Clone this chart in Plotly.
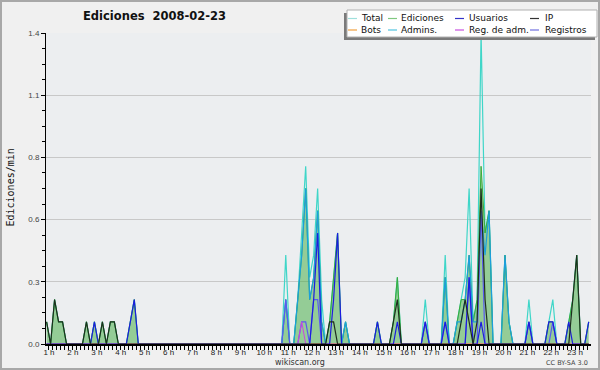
import plotly.graph_objects as go

# ---------------- data (10-minute bins, edits per minute) ----------------
START_HOUR = 0.9
STEP_HOURS = 1 / 6

total = [
    0.1, 0, 0.2, 0.1, 0.1, 0, 0, 0, 0, 0, 0.1, 0,
    0.1, 0, 0.1, 0, 0.1, 0.1, 0, 0, 0, 0.1, 0.2, 0,
    0, 0, 0, 0, 0, 0, 0, 0, 0, 0, 0, 0,
    0, 0, 0, 0, 0, 0, 0, 0, 0, 0, 0, 0,
    0, 0, 0, 0, 0, 0, 0, 0, 0, 0, 0, 0,
    0.4, 0, 0, 0.2, 0.5, 0.8, 0.3, 0.4, 0.7, 0.2, 0, 0.1,
    0.3, 0.5, 0, 0.1, 0, 0, 0, 0, 0, 0, 0, 0.1,
    0, 0, 0, 0.1, 0.3, 0, 0, 0, 0, 0, 0, 0.2,
    0, 0, 0, 0, 0.4, 0, 0, 0.1, 0.2, 0.3, 0.7, 0.1,
    0.2, 1.4, 0.5, 0.6, 0, 0, 0, 0.4, 0.1, 0, 0, 0,
    0, 0.2, 0, 0, 0, 0, 0.1, 0.2, 0, 0, 0, 0.1,
    0.2, 0.4, 0, 0, 0.1,
]
ediciones = [
    0.1, 0, 0.2, 0.1, 0.1, 0, 0, 0, 0, 0, 0.1, 0,
    0.1, 0, 0.1, 0, 0.1, 0.1, 0, 0, 0, 0.1, 0.2, 0,
    0, 0, 0, 0, 0, 0, 0, 0, 0, 0, 0, 0,
    0, 0, 0, 0, 0, 0, 0, 0, 0, 0, 0, 0,
    0, 0, 0, 0, 0, 0, 0, 0, 0, 0, 0, 0,
    0.2, 0, 0, 0.2, 0.4, 0.7, 0.2, 0.3, 0.6, 0.1, 0, 0.1,
    0.3, 0.5, 0, 0.1, 0, 0, 0, 0, 0, 0, 0, 0.1,
    0, 0, 0, 0.1, 0.3, 0, 0, 0, 0, 0, 0, 0.1,
    0, 0, 0, 0, 0.3, 0, 0, 0.1, 0.2, 0.2, 0.4, 0.1,
    0.2, 0.8, 0.5, 0.6, 0, 0, 0, 0.4, 0.1, 0, 0, 0,
    0, 0.1, 0, 0, 0, 0, 0.1, 0.1, 0, 0, 0, 0.1,
    0.2, 0.4, 0, 0, 0.1,
]
usuarios = [
    0, 0, 0, 0, 0, 0, 0, 0, 0, 0, 0, 0,
    0.1, 0, 0, 0, 0, 0, 0, 0, 0, 0.1, 0.2, 0,
    0, 0, 0, 0, 0, 0, 0, 0, 0, 0, 0, 0,
    0, 0, 0, 0, 0, 0, 0, 0, 0, 0, 0, 0,
    0, 0, 0, 0, 0, 0, 0, 0, 0, 0, 0, 0,
    0, 0, 0, 0, 0, 0, 0, 0.2, 0.5, 0, 0, 0,
    0.2, 0.5, 0, 0, 0, 0, 0, 0, 0, 0, 0, 0.1,
    0, 0, 0, 0, 0.1, 0, 0, 0, 0, 0, 0, 0.1,
    0, 0, 0, 0, 0.1, 0, 0, 0, 0, 0, 0.3, 0,
    0, 0.1, 0, 0, 0, 0, 0, 0, 0, 0, 0, 0,
    0, 0.1, 0, 0, 0, 0, 0.1, 0.1, 0, 0, 0, 0.1,
    0, 0, 0, 0, 0.1,
]
ip = [
    0.1, 0, 0.2, 0.1, 0.1, 0, 0, 0, 0, 0, 0.1, 0,
    0, 0, 0.1, 0, 0.1, 0.1, 0, 0, 0, 0, 0, 0,
    0, 0, 0, 0, 0, 0, 0, 0, 0, 0, 0, 0,
    0, 0, 0, 0, 0, 0, 0, 0, 0, 0, 0, 0,
    0, 0, 0, 0, 0, 0, 0, 0, 0, 0, 0, 0,
    0, 0, 0, 0, 0, 0, 0, 0, 0, 0, 0, 0.1,
    0.1, 0, 0, 0, 0, 0, 0, 0, 0, 0, 0, 0,
    0, 0, 0, 0.1, 0.2, 0, 0, 0, 0, 0, 0, 0,
    0, 0, 0, 0, 0, 0, 0, 0, 0.1, 0.2, 0.1, 0,
    0.1, 0.7, 0.2, 0, 0, 0, 0, 0, 0, 0, 0, 0,
    0, 0, 0, 0, 0, 0, 0, 0, 0, 0, 0, 0,
    0.2, 0.4, 0, 0, 0,
]
bots = [
    0, 0, 0, 0, 0, 0, 0, 0, 0, 0, 0, 0,
    0, 0, 0, 0, 0, 0, 0, 0, 0, 0, 0, 0,
    0, 0, 0, 0, 0, 0, 0, 0, 0, 0, 0, 0,
    0, 0, 0, 0, 0, 0, 0, 0, 0, 0, 0, 0,
    0, 0, 0, 0, 0, 0, 0, 0, 0, 0, 0, 0,
    0, 0, 0, 0, 0, 0, 0, 0, 0, 0, 0, 0,
    0, 0, 0, 0, 0, 0, 0, 0, 0, 0, 0, 0,
    0, 0, 0, 0, 0, 0, 0, 0, 0, 0, 0, 0,
    0, 0, 0, 0, 0, 0, 0, 0, 0, 0, 0, 0,
    0, 0, 0, 0, 0, 0, 0, 0, 0, 0, 0, 0,
    0, 0, 0, 0, 0, 0, 0, 0, 0, 0, 0, 0,
    0, 0, 0, 0, 0,
]
admins = [
    0, 0, 0, 0, 0, 0, 0, 0, 0, 0, 0, 0,
    0, 0, 0, 0, 0, 0, 0, 0, 0, 0, 0, 0,
    0, 0, 0, 0, 0, 0, 0, 0, 0, 0, 0, 0,
    0, 0, 0, 0, 0, 0, 0, 0, 0, 0, 0, 0,
    0, 0, 0, 0, 0, 0, 0, 0, 0, 0, 0, 0,
    0.2, 0, 0, 0.2, 0.4, 0.7, 0.2, 0.3, 0.6, 0.1, 0, 0,
    0, 0, 0, 0.1, 0, 0, 0, 0, 0, 0, 0, 0,
    0, 0, 0, 0, 0, 0, 0, 0, 0, 0, 0, 0,
    0, 0, 0, 0, 0.3, 0, 0, 0.1, 0.1, 0.2, 0.4, 0.1,
    0.1, 0.6, 0.4, 0.6, 0, 0, 0, 0.4, 0.1, 0, 0, 0,
    0, 0, 0, 0, 0, 0, 0, 0, 0, 0, 0, 0,
    0, 0, 0, 0, 0,
]
reg_adm = [
    0, 0, 0, 0, 0, 0, 0, 0, 0, 0, 0, 0,
    0, 0, 0, 0, 0, 0, 0, 0, 0, 0, 0, 0,
    0, 0, 0, 0, 0, 0, 0, 0, 0, 0, 0, 0,
    0, 0, 0, 0, 0, 0, 0, 0, 0, 0, 0, 0,
    0, 0, 0, 0, 0, 0, 0, 0, 0, 0, 0, 0,
    0, 0, 0, 0, 0.1, 0, 0, 0, 0, 0, 0, 0,
    0, 0, 0, 0, 0, 0, 0, 0, 0, 0, 0, 0,
    0, 0, 0, 0, 0, 0, 0, 0, 0, 0, 0, 0,
    0, 0, 0, 0, 0, 0, 0, 0, 0, 0, 0, 0,
    0, 0, 0, 0, 0, 0, 0, 0, 0, 0, 0, 0,
    0, 0, 0, 0, 0, 0, 0, 0, 0, 0, 0, 0,
    0, 0, 0, 0, 0,
]
registros = [
    0, 0, 0, 0, 0, 0, 0, 0, 0, 0, 0, 0,
    0, 0, 0, 0, 0, 0, 0, 0, 0, 0, 0, 0,
    0, 0, 0, 0, 0, 0, 0, 0, 0, 0, 0, 0,
    0, 0, 0, 0, 0, 0, 0, 0, 0, 0, 0, 0,
    0, 0, 0, 0, 0, 0, 0, 0, 0, 0, 0, 0,
    0.2, 0, 0, 0, 0.1, 0.1, 0, 0.2, 0.2, 0, 0, 0,
    0, 0, 0, 0, 0, 0, 0, 0, 0, 0, 0, 0,
    0, 0, 0, 0, 0, 0, 0, 0, 0, 0, 0, 0.1,
    0, 0, 0, 0, 0.1, 0, 0, 0, 0, 0, 0.3, 0,
    0, 0.6, 0, 0, 0, 0, 0, 0, 0, 0, 0, 0,
    0, 0.1, 0, 0, 0, 0, 0, 0.1, 0, 0, 0, 0,
    0, 0, 0, 0, 0,
]

hour_ticks = list(range(1, 24))
hour_labels = [f"{h} h" for h in hour_ticks]
y_ticks = [0, 0.28, 0.56, 0.84, 1.12, 1.4]
y_labels = ["0.0", "0.3", "0.6", "0.8", "1.1", "1.4"]

legend_names = ["Total", "Ediciones", "Usuarios", "IP",
                "Bots", "Admins.", "Reg. de adm.", "Registros"]

# ---------------- styles ----------------
C_TOTAL = "#3fd6c8"
C_EDIC = "#3aac3a"
C_USU = "#1c1ce0"
C_IP = "#1e2e1e"
C_BOTS = "#f0a030"
C_ADM = "#1c9fdc"
C_REGADM = "#cc44e0"
C_REG = "#5a5af0"
legend_colors = ["#9fe0dc", "#80c880", "#3434c8", "#333333",
                 "#f0a040", "#50c4e0", "#c850e0", "#7070e0"]

W, H = 600, 370
L, R, T, B = 46, 9, 33, 26
PW, PH = W - L - R, H - T - B

def px(xp):
    return (xp - L) / PW

def py(yp):
    return (H - B - yp) / PH

x = [START_HOUR + i * STEP_HOURS for i in range(len(total))]

fig = go.Figure()
fig.add_trace(go.Scatter(x=x, y=total, mode="lines", name="Total",
                         line=dict(color=C_TOTAL, width=1.2)))
fig.add_trace(go.Scatter(x=x, y=ediciones, mode="lines", name="Ediciones",
                         fill="tozeroy", fillcolor="rgba(60,170,60,0.5)",
                         line=dict(color=C_EDIC, width=1)))
fig.add_trace(go.Scatter(x=x, y=admins, mode="lines", name="Admins.",
                         line=dict(color=C_ADM, width=1.2)))
fig.add_trace(go.Scatter(x=x, y=registros, mode="lines", name="Registros",
                         line=dict(color=C_REG, width=1.2)))
fig.add_trace(go.Scatter(x=x, y=reg_adm, mode="lines", name="Reg. de adm.",
                         line=dict(color=C_REGADM, width=1)))
fig.add_trace(go.Scatter(x=x, y=bots, mode="lines", name="Bots",
                         line=dict(color=C_BOTS, width=1)))
fig.add_trace(go.Scatter(x=x, y=usuarios, mode="lines", name="Usuarios",
                         line=dict(color=C_USU, width=1.2)))
fig.add_trace(go.Scatter(x=x, y=ip, mode="lines", name="IP",
                         line=dict(color=C_IP, width=1.2)))

x_lo = START_HOUR - 0.6 / (6 * 3.986)
x_hi = x_lo + PW / (6 * 3.986)

fig.update_layout(
    width=W, height=H,
    margin=dict(l=L, r=R, t=T, b=B, pad=0),
    paper_bgcolor="#f0f0f0",
    plot_bgcolor="#eceef0",
    showlegend=False,
    xaxis=dict(
        range=[x_lo, x_hi], tickmode="array", tickvals=hour_ticks, ticktext=hour_labels,
        ticks="outside", ticklen=4, tickwidth=1, tickcolor="#000",
        showline=True, linecolor="#000", linewidth=2,
        showgrid=False, zeroline=False,
        tickfont=dict(family="Liberation Sans", size=8, color="#222"),
        ticklabelstandoff=-5,
        minor=dict(tickmode="linear", tick0=1, dtick=STEP_HOURS, ticks="outside",
                   ticklen=4, tickwidth=1, tickcolor="#000", showgrid=False),
    ),
    yaxis=dict(
        range=[0, 1.4], tickmode="array", tickvals=y_ticks, ticktext=y_labels,
        ticks="outside", ticklen=4, tickwidth=1, tickcolor="#000",
        showline=True, linecolor="#000", linewidth=1,
        showgrid=True, gridcolor="#c8c8c8", gridwidth=1, zeroline=False,
        tickfont=dict(family="Liberation Sans", size=8, color="#444"),
        minor=dict(tickmode="linear", tick0=0, dtick=0.07, ticks="outside",
                   ticklen=3, tickwidth=1, tickcolor="#000", showgrid=False),
    ),
)

shapes = []
annotations = []

# outer border
shapes.append(dict(type="rect", xref="paper", yref="paper",
                   x0=px(1), x1=px(599), y0=py(1), y1=py(369),
                   line=dict(color="#a8a8a8", width=2), fillcolor="rgba(0,0,0,0)", layer="above"))

# legend box with shadow
shapes.append(dict(type="rect", xref="paper", yref="paper",
                   x0=px(344), x1=px(595), y0=py(13), y1=py(40),
                   line=dict(width=0), fillcolor="#7a7a7a", layer="above"))
shapes.append(dict(type="rect", xref="paper", yref="paper",
                   x0=px(347), x1=px(597), y0=py(10), y1=py(37),
                   line=dict(color="#b0b0b0", width=1), fillcolor="#ffffff", layer="above"))

col_sample = [348, 388, 455, 530]
col_text = [359, 399, 467, 543]
row_y = [18.5, 30]
for k, name in enumerate(legend_names):
    r, c = divmod(k, 4)
    yy = py(row_y[r])
    shapes.append(dict(type="line", xref="paper", yref="paper",
                       x0=px(col_sample[c]), x1=px(col_sample[c] + 9), y0=yy, y1=yy,
                       line=dict(color=legend_colors[k], width=1.2), layer="above"))
    annotations.append(dict(text=name, xref="paper", yref="paper",
                            x=px(col_text[c]), y=yy, xanchor="left", yanchor="middle",
                            showarrow=False,
                            font=dict(family="DejaVu Sans", size=9, color="#111")))

# title
annotations.append(dict(text="<b>Ediciones  2008-02-23</b>", xref="paper", yref="paper",
                        x=px(154), y=py(16), xanchor="center", yanchor="middle",
                        showarrow=False,
                        font=dict(family="DejaVu Sans", size=11.5, color="#111")))
# y-axis title
annotations.append(dict(text="Ediciones/min", xref="paper", yref="paper",
                        x=px(9.5), y=py(188), xanchor="center", yanchor="middle",
                        textangle=-90, showarrow=False,
                        font=dict(family="DejaVu Sans Mono", size=10, color="#111")))
# footer
annotations.append(dict(text="wikiscan.org", xref="paper", yref="paper",
                        x=px(300), y=py(362), xanchor="center", yanchor="middle",
                        showarrow=False,
                        font=dict(family="DejaVu Sans", size=8, color="#333")))
annotations.append(dict(text="CC BY-SA 3.0", xref="paper", yref="paper",
                        x=px(590), y=py(362.5), xanchor="right", yanchor="middle",
                        showarrow=False,
                        font=dict(family="DejaVu Sans", size=6.5, color="#444")))

fig.update_layout(shapes=shapes, annotations=annotations)
fig.write_html("out.html")
